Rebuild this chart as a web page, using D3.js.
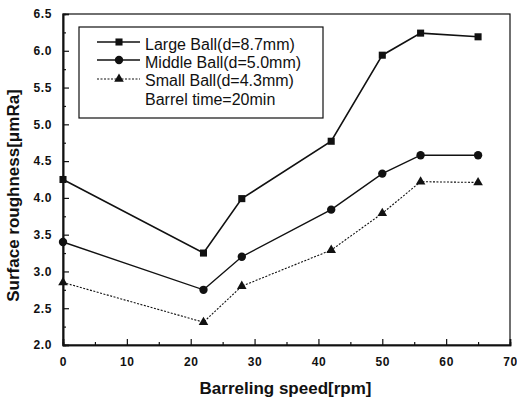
<!DOCTYPE html>
<html><head><meta charset="utf-8">
<script src="https://cdn.jsdelivr.net/npm/d3@7/dist/d3.min.js"></script>
<style>body{margin:0;background:#fff}svg{display:block}</style>
</head><body>
<svg id="c" width="517" height="401"></svg>
<script>
const speeds = [0, 22, 28, 42, 50, 56, 65];
const largeBall = [4.25, 3.25, 3.99, 4.77, 5.94, 6.24, 6.19];
const middleBall = [3.40, 2.75, 3.20, 3.84, 4.33, 4.58, 4.58];
const smallBall = [2.85, 2.31, 2.80, 3.29, 3.79, 4.22, 4.21];
const xTicks = [0, 10, 20, 30, 40, 50, 60, 70];
const yTicks = [2.0, 2.5, 3.0, 3.5, 4.0, 4.5, 5.0, 5.5, 6.0, 6.5];
const seriesNames = ["Large Ball(d=8.7mm)", "Middle Ball(d=5.0mm)", "Small Ball(d=4.3mm)"];
const noteText = "Barrel time=20min";

const svg = d3.select("#c");
const L = 63, R = 510, T = 14, B = 345;
const x = d3.scaleLinear().domain([0, 70]).range([L, R]);
const y = d3.scaleLinear().domain([2.0, 6.5]).range([B, T]);
const font = "'Liberation Sans', Arial, sans-serif";

// frame
svg.append("rect").attr("x", L).attr("y", T).attr("width", R - L).attr("height", B - T)
  .attr("fill", "none").attr("stroke", "#111").attr("stroke-width", 1.2);

// axes
const xAxis = d3.axisBottom(x).tickValues(xTicks).tickSize(-6).tickPadding(12).tickFormat(d3.format("d"));
svg.append("g").attr("transform", `translate(0,${B})`).call(xAxis);
const xMinor = d3.axisBottom(x).tickValues(d3.range(5, 70, 10)).tickSize(-3).tickFormat("");
svg.append("g").attr("transform", `translate(0,${B})`).call(xMinor);
const yAxis = d3.axisLeft(y).tickValues(yTicks).tickSize(-6).tickPadding(11).tickFormat(d3.format(".1f"));
svg.append("g").attr("transform", `translate(${L},0)`).call(yAxis);
const yMinor = d3.axisLeft(y).tickValues(d3.range(2.25, 6.5, 0.5)).tickSize(-3).tickFormat("");
svg.append("g").attr("transform", `translate(${L},0)`).call(yMinor);
svg.selectAll(".domain").attr("stroke", "#111").attr("stroke-width", 1.6);
svg.selectAll(".tick line").attr("stroke", "#111").attr("stroke-width", 1.2);
svg.selectAll(".tick text").attr("font-family", font).attr("font-size", 12).attr("font-weight", "bold")
  .attr("letter-spacing", 0.6).attr("fill", "#111");

// titles
svg.append("text").attr("x", (L + R) / 2 - 1).attr("y", 394).attr("text-anchor", "middle")
  .attr("font-family", font).attr("font-size", 17).attr("font-weight", "bold").attr("fill", "#111")
  .text("Barreling speed[rpm]");
svg.append("text").attr("transform", `translate(19,${(T + B) / 2 + 16}) rotate(-90)`).attr("text-anchor", "middle")
  .attr("font-family", font).attr("font-size", 17).attr("font-weight", "bold").attr("fill", "#111")
  .text("Surface roughness[\u03bcmRa]");

const styles = [
  {data: largeBall, width: 1.6, dash: null, sym: d3.symbolSquare, size: 50},
  {data: middleBall, width: 1.4, dash: null, sym: d3.symbolCircle, size: 55},
  {data: smallBall, width: 1.1, dash: "2,1.5", sym: d3.symbolTriangle, size: 40}
];
const line = d3.line().x(d => x(d[0])).y(d => y(d[1]));
styles.forEach(s => {
  const pts = speeds.map((v, i) => [v, s.data[i]]);
  svg.append("path").datum(pts).attr("d", line).attr("fill", "none")
    .attr("stroke", "#111").attr("stroke-width", s.width).attr("stroke-dasharray", s.dash);
  svg.selectAll(null).data(pts).enter().append("path")
    .attr("transform", d => `translate(${x(d[0])},${y(d[1])})`)
    .attr("d", d3.symbol().type(s.sym).size(s.size)).attr("fill", "#111");
});

// legend
svg.append("rect").attr("x", 79).attr("y", 27).attr("width", 244).attr("height", 91)
  .attr("fill", "#fff").attr("stroke", "#111").attr("stroke-width", 1.2);
const ly = [42, 60, 79];
const tb = [50, 68, 86, 105];
styles.forEach((s, i) => {
  svg.append("line").attr("x1", 97).attr("x2", 140).attr("y1", ly[i]).attr("y2", ly[i])
    .attr("stroke", "#111").attr("stroke-width", s.width).attr("stroke-dasharray", s.dash);
  svg.append("path").attr("transform", `translate(119,${ly[i]})`)
    .attr("d", d3.symbol().type(s.sym).size(s.size)).attr("fill", "#111");
  svg.append("text").attr("x", 145).attr("y", tb[i]).attr("font-family", font)
    .attr("font-size", 16).attr("fill", "#111").text(seriesNames[i]);
});
svg.append("text").attr("x", 145).attr("y", tb[3]).attr("font-family", font)
  .attr("font-size", 16).attr("fill", "#111").text(noteText);
</script>
</body></html>
